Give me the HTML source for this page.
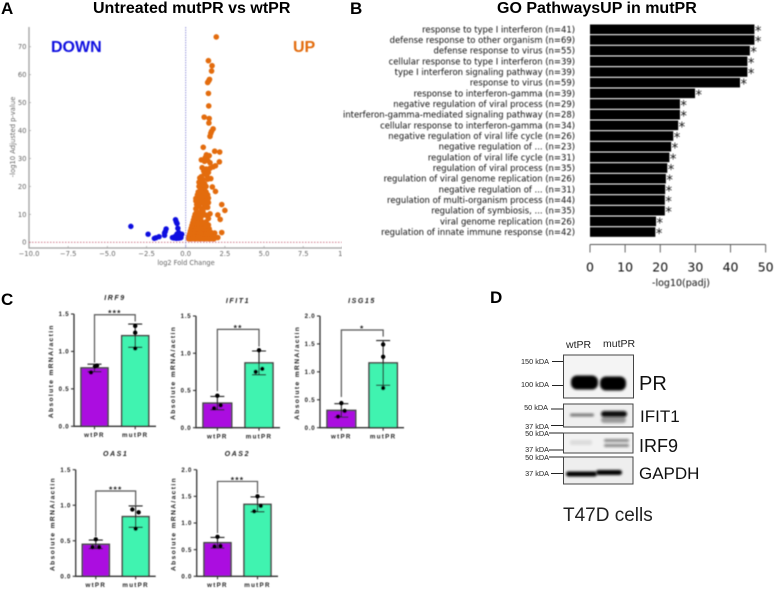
<!DOCTYPE html>
<html lang="en">
<head>
<meta charset="utf-8">
<title>mutPR versus wtPR figure</title>
<style>
html,body{margin:0;padding:0;background:#fff;}
body{width:774px;height:589px;overflow:hidden;}
svg{display:block;}
text{font-family:"Liberation Sans",sans-serif;}
.dj{font-family:"DejaVu Sans","Liberation Sans",sans-serif;}
</style>
</head>
<body>
<svg id="fig" xmlns="http://www.w3.org/2000/svg" width="774" height="589" viewBox="0 0 774 589">
  <defs>
    <filter id="soft" x="-5%" y="-5%" width="110%" height="110%"><feGaussianBlur stdDeviation="0.4"/></filter>
    <filter id="band" x="-30%" y="-60%" width="160%" height="220%"><feGaussianBlur stdDeviation="1.3"/></filter>
    <filter id="wide" x="-30%" y="-60%" width="160%" height="220%"><feGaussianBlur stdDeviation="2.4"/></filter>
    <clipPath id="volcano-clip"><rect x="0" y="0" width="342" height="270"/></clipPath>
  </defs>
  <rect width="774" height="589" fill="#fff"/>

  <g font-weight="700" fill="#000" font-size="16">
    <text x="1" y="14" font-size="17">A</text>
    <text x="93" y="13">Untreated mutPR vs wtPR</text>
    <text x="350" y="14" font-size="17">B</text>
    <text x="497" y="13">GO PathwaysUP in mutPR</text>
    <text x="1" y="305" font-size="17">C</text>
    <text x="490" y="303" font-size="17">D</text>
  </g>

  <g id="volcano" filter="url(#soft)" clip-path="url(#volcano-clip)"></g>
  <g id="pathways" filter="url(#soft)"></g>
  <g id="expression" filter="url(#soft)"></g>

  <g id="western">
    <text x="566" y="348" font-size="10.5" fill="#222">wtPR</text>
    <text x="603" y="347" font-size="10.5" fill="#222">mutPR</text>

    <g>
      <rect x="563.5" y="355" width="70" height="43" fill="#f4f4f4" stroke="#444" stroke-width="1"/>
      <rect x="571" y="375.5" width="27" height="14" rx="6" fill="#000" filter="url(#band)"/>
      <rect x="600" y="376.5" width="26" height="14" rx="6" fill="#000" filter="url(#band)"/>
      <text x="639" y="390" font-size="20" fill="#111">PR</text>
    </g>
    <g>
      <rect x="563.5" y="404" width="69.5" height="23" fill="#efefef" stroke="#444" stroke-width="1"/>
      <rect x="570" y="413.5" width="24" height="3" rx="1.5" fill="#777" filter="url(#band)"/>
      <rect x="601" y="417" width="25" height="6" rx="3" fill="#999" filter="url(#band)"/>
      <rect x="601" y="411" width="26" height="6" rx="3" fill="#111" filter="url(#band)"/>
      <text x="640" y="422" font-size="17" fill="#111">IFIT1</text>
    </g>
    <g>
      <rect x="563.5" y="433" width="69.5" height="20" fill="#f2f2f2" stroke="#444" stroke-width="1"/>
      <rect x="570" y="440" width="22" height="5" rx="2" fill="#dcdcdc" filter="url(#band)"/>
      <rect x="604" y="439" width="25" height="3" rx="1.5" fill="#888" filter="url(#band)"/>
      <rect x="604" y="444" width="25" height="3" rx="1.5" fill="#888" filter="url(#band)"/>
      <text x="639" y="452" font-size="18" fill="#111">IRF9</text>
    </g>
    <g>
      <rect x="563.5" y="457" width="69.5" height="27" fill="#eeeeee" stroke="#444" stroke-width="1"/>
      <rect x="566" y="471.5" width="31" height="5" rx="2.5" fill="#000" filter="url(#band)"/>
      <rect x="596" y="470" width="26" height="5" rx="2.5" fill="#000" filter="url(#band)"/>
      <text x="639" y="479" font-size="17" fill="#111">GAPDH</text>
    </g>

    <g stroke="#222" stroke-width="1">
      <line x1="552" y1="361.5" x2="563" y2="361.5"/>
      <line x1="552" y1="385.5" x2="563" y2="385.5"/>
      <line x1="551" y1="409" x2="563" y2="409"/>
      <line x1="551" y1="425.5" x2="563" y2="425.5"/>
      <line x1="549" y1="433" x2="563" y2="433"/>
      <line x1="549" y1="450" x2="563" y2="450"/>
      <line x1="549" y1="457" x2="563" y2="457"/>
      <line x1="551" y1="473.5" x2="563" y2="473.5"/>
    </g>
    <g font-size="7.3" fill="#222" text-anchor="end">
      <text x="549" y="364">150 kDA</text>
      <text x="549" y="387">100 kDA</text>
      <text x="548" y="410">50 kDA</text>
      <text x="549" y="429">37 kDA</text>
      <text x="549" y="436">50 kDA</text>
      <text x="549" y="452">37 kDA</text>
      <text x="549" y="460">50 kDA</text>
      <text x="549" y="476">37 kDA</text>
    </g>
    <text x="563" y="521" font-size="19" fill="#222">T47D cells</text>
  </g>
</svg>

<script>
// ---------- Panel A data ----------
const volcanoXTicks = [-10, -7.5, -5, -2.5, 0, 2.5, 5, 7.5, 10];
const volcanoXTickLabels = ["\u221210.0", "\u22127.5", "\u22125.0", "\u22122.5", "0.0", "2.5", "5.0", "7.5", "10"];
const volcanoYTicks = [0, 10, 20, 30, 40, 50, 60, 70];
const upX = [1.95,1.45,1.68,1.65,1.52,1.47,1.4,1.45,1.47,1.18,1.5,1.48,1.75,1.65,1.6,1.55,1.12,
  1.85,2.17,1.32,1.5,1.25,1,1.2,1.4,2.15,1.55,1.9,1.75,1.05,1.3,1.55,1.15,1.45,1.2,1.35,1,0.9,1.6,1.1,1.4,
  0.85,1.05,1.2,1,0.85,1.3,1.7,1.1,0.95,1.2,1.9,0.8,1,1.3,0.75,1.15,1.4,0.9,1,0.65,1.3,1.45,0.85,1.1,0.65,1.3,0.95,1.45,
  2.3,0.7,1.2,0.85,1.3,1.4,0.65,1,2.5,0.7,1.1,0.9,1.55,0.6,2.05,1.1,1.3,0.8,0.55,1.45,2.2,0.95,1,1.3,0.5,0.7,0.85,
  0.45,0.6,0.8,1,1.2,0.4,0.55,0.7,0.9,1.1,1.3,1.45,0.35,0.5,0.65,0.8,1,1.15,1.3,1.5,
  0.3,0.45,0.6,0.75,0.9,1.05,1.2,1.35,1.6,1.85,2.3,
  0.25,0.4,0.55,0.7,0.85,1,1.15,1.3,1.45,1.6,1.75,
  0.2,0.35,0.5,0.65,0.8,0.95,1.1,1.25,1.4,1.55,1.7,1.85,2.05,
  0.18,0.3,0.45,0.6,0.75,0.9,1.05,1.2,1.35,1.5,1.65,1.8];
const upY = [73.5,65,63.2,61.3,58.3,57.8,57.2,53.3,48.8,44.8,44.3,42.7,40.6,39.7,39,37.9,34,
  32.6,32.3,31.3,31,30.3,29.5,29,29.3,28.8,28.5,27.4,27,26.7,26.2,26.5,25.5,25,24.5,24,23.5,23,22.8,22.5,22.6,
  21.5,21.5,21,20.3,20,20,19.8,19.5,19,18.7,18.2,18,18,18,17,17,17,16.5,16,15.7,16,15.8,15.2,15,14.8,14.8,14.2,14.2,
  13.5,13.5,13.3,13,12.5,12.5,12,12,11.4,11,11,10.5,10.2,10,9.8,9.7,9.7,9.4,9,8.5,8.2,8.7,7.5,7.3,8,8.2,7.8,
  7,7.1,6.9,6.8,6.6,6,6.1,5.9,6,5.9,5.8,6.2,5,5.1,4.9,5,5.1,4.9,5,4.8,
  4,4,4.1,3.9,4,4.1,3.9,4,3.6,3.3,3.5,
  3,3,3.1,2.9,3,3.1,2.9,3,3.1,3,2.9,
  2.1,2,2.1,2,2.1,2,2.1,2,2.1,2,2.1,2,1.7,
  1.3,1.2,1.3,1.2,1.3,1.2,1.3,1.2,1.3,1.2,1.3,1.2];
const downX = [-3.5,-2.4,-2,-1.9,-1.7,-1.35,-1.35,-1.3,-1.25,-0.65,-0.6,-0.55,-0.5,-0.45,-0.4,-0.75,-0.85,-0.7,-0.6,-0.6,-0.5,-0.5,-0.45,-0.4,-0.35,-0.3,-0.3,-0.35,-0.55,-0.25,-0.65];
const downY = [5.7,2.9,1.4,1.6,2,2.5,3.3,3.9,4.8,8.1,7.3,6.7,5,3.5,3,1.5,1.7,2,1.4,2.5,1.5,2.3,1.5,1.5,1.6,1.7,2.3,2.8,3,2.9,1.6];

// ---------- Panel B data ----------
const pathwayLabels = ["response to type I interferon (n=41)","defense response to other organism (n=69)","defense response to virus (n=55)","cellular response to type I interferon (n=39)","type I interferon signaling pathway (n=39)","response to virus (n=59)","response to interferon-gamma (n=39)","negative regulation of viral process (n=29)","interferon-gamma-mediated signaling pathway (n=28)","cellular response to interferon-gamma (n=34)","negative regulation of viral life cycle (n=26)","negative regulation of ... (n=23)","regulation of viral life cycle (n=31)","regulation of viral process (n=35)","regulation of viral genome replication (n=26)","negative regulation of ... (n=31)","regulation of multi-organism process (n=44)","regulation of symbiosis, ... (n=35)","viral genome replication (n=26)","regulation of innate immune response (n=42)"];
const pathwayValues = [46.8,46.8,45.5,44.8,44.8,42.7,29.9,25.6,25.6,25.1,23.7,23.1,22.6,22,21.6,21.4,21.3,21.3,18.8,18.6];
const pathwayTicks = [0,10,20,30,40,50];

// ---------- Panel C data ----------
const geneNames = ["IRF9","IFIT1","ISG15","OAS1","OAS2"];
const groupNames = ["wtPR","mutPR"];
const wtMeans = [0.78,0.33,0.31,0.45,0.63];
const mutMeans = [1.21,0.87,1.16,0.84,1.35];
const wtErrors = [0.05,0.09,0.12,0.06,0.10];
const mutErrors = [0.155,0.16,0.40,0.15,0.14];
const wtPoints = [[0.72,0.81,0.80],[0.26,0.30,0.43],[0.20,0.30,0.44],[0.41,0.41,0.52],[0.56,0.57,0.74]];
const mutPoints = [[1.04,1.25,1.34],[0.75,0.79,1.04],[0.71,1.27,1.49],[0.67,0.90,0.94],[1.22,1.32,1.50]];
const yAxisMax = [1.5,1.5,2,1.5,2];
const yTickLabels = [["0.0","0.5","1.0","1.5"],["0.0","0.5","1.0","1.5"],["0.0","0.5","1.0","1.5","2.0"],["0.0","0.5","1.0","1.5"],["0.0","0.5","1.0","1.5","2.0"]];
const significance = ["***","**","*","***","***"];
const bracketTop = [1.49,1.32,1.75,1.2,1.78];
const bracketWtEnd = [0.85,0.49,0.55,0.56,0.81];
const bracketMutEnd = [1.4,1.09,1.63,1.0,1.56];

// ---------- helpers ----------
const NS = "http://www.w3.org/2000/svg";
function mk(parent, tag, attrs, txt) {
  const el = document.createElementNS(NS, tag);
  for (const k in attrs) el.setAttribute(k, attrs[k]);
  if (txt !== undefined) el.textContent = txt;
  parent.appendChild(el);
  return el;
}

// ---------- Panel A ----------
(function () {
  const g = document.getElementById("volcano");
  const sx = v => 185.7 + v * 15.67;
  const sy = v => 242.3 - v * 2.794;
  const axisColor = "#a0a0a0", textColor = "#666";

  const spines = mk(g, "path", {d: "M29 27V248H342", fill: "none", stroke: axisColor, "stroke-width": 1.3});
  
  

  volcanoXTicks.forEach((t, i) => {
    mk(g, "line", {x1: sx(t), x2: sx(t), y1: 246, y2: 248, stroke: axisColor, "stroke-width": 0.7});
    const lab = mk(g, "text", {x: sx(t), y: 256, "text-anchor": "middle", "font-size": 6.8, fill: textColor, class: "dj"}, volcanoXTickLabels[i]);
    
    
  });
  volcanoYTicks.forEach(t => {
    mk(g, "line", {x1: 29, x2: 31, y1: sy(t), y2: sy(t), stroke: axisColor, "stroke-width": 0.7});
    const lab = mk(g, "text", {x: 26.5, y: sy(t) + 2.4, "text-anchor": "end", "font-size": 6.8, fill: textColor, class: "dj"}, t);
    
    
  });

  const xt = mk(g, "text", {x: 186, y: 265, "text-anchor": "middle", "font-size": 6.6, fill: textColor, class: "dj"}, "log2 Fold Change");
  
  
  const yt = mk(g, "text", {transform: "translate(15 137) rotate(-90)", "text-anchor": "middle", "font-size": 6.8, fill: textColor, class: "dj"}, "-log10 Adjusted p-value");
  
  

  upX.forEach((x, i) => {
    const c = mk(g, "circle", {cx: sx(x), cy: sy(upY[i]), r: 2.8, fill: "#e36c0a"});
    
    
  });
  downX.forEach((x, i) => {
    const c = mk(g, "circle", {cx: sx(x), cy: sy(downY[i]), r: 2.7, fill: "#0b0be0"});
    
    
  });

  const h = mk(g, "line", {x1: 29, x2: 342, y1: sy(0), y2: sy(0), stroke: "#c8667a", "stroke-width": 0.8, "stroke-dasharray": "1.5 1.5"});
  
  
  const v = mk(g, "line", {x1: sx(0), x2: sx(0), y1: 27, y2: 248, stroke: "#7f7fd0", "stroke-width": 0.8, "stroke-dasharray": "1.5 1"});
  
  

  const down = mk(g, "text", {x: 51, y: 52, "font-size": 16, "font-weight": 700, fill: "#0b0be0"}, "DOWN");
  
  
  const up = mk(g, "text", {x: 293, y: 52, "font-size": 16, "font-weight": 700, fill: "#e36c0a"}, "UP");
  
  
})();

// ---------- Panel B ----------
(function () {
  const g = document.getElementById("pathways");
  const sx = v => 590 + v * 3.513;
  const sy = i => 29.3 + i * 10.67;

  pathwayLabels.forEach((label, i) => {
    const t = mk(g, "text", {x: 575, y: sy(i) + 3, "text-anchor": "end", "font-size": 8.45, fill: "#111", class: "dj"}, label);
    
    
    const b = mk(g, "rect", {x: sx(0), y: sy(i) - 4.8, width: sx(pathwayValues[i]) - sx(0), height: 9.6, fill: "#000"});
    
    
    const s = mk(g, "text", {x: sx(pathwayValues[i]) + 0.5, y: sy(i) + 6, "font-size": 13, fill: "#111", class: "dj"}, "*");
    
    
  });

  const axis = mk(g, "line", {x1: sx(0), x2: sx(50), y1: 244.5, y2: 244.5, stroke: "#555", "stroke-width": 0.9});
  
  
  pathwayTicks.forEach(t => {
    mk(g, "line", {x1: sx(t), x2: sx(t), y1: 244.5, y2: 252.5, stroke: "#555", "stroke-width": 0.9});
    const lab = mk(g, "text", {x: sx(t), y: 271.5, "text-anchor": "middle", "font-size": 12.5, fill: "#111", class: "dj"}, t);
    
    
  });
  const title = mk(g, "text", {x: 681, y: 286, "text-anchor": "middle", "font-size": 9.5, fill: "#111", class: "dj"}, "-log10(padj)");
  
  
})();

// ---------- Panel C ----------
(function () {
  const root = document.getElementById("expression");
  // Panel geometry only: axis origin, plot extent, bar edges, point scatter offsets
  const frames = [
    {ax: 74, y0: 426.3, yTop: 314, b1: [81, 108], b2: [121.7, 148.7], end: 156, titleY: 300, wtJ: [-3.5, 2.5, 0.5], mutJ: [0, 0, 0]},
    {ax: 196, y0: 427.7, yTop: 316, b1: [203, 231.7], b2: [245, 273], end: 280, titleY: 303, wtJ: [-3.3, 3.3, 0], mutJ: [-3.3, 3.3, 0]},
    {ax: 320, y0: 427.7, yTop: 316, b1: [327, 355.7], b2: [369, 397.3], end: 404, titleY: 303, wtJ: [-3.3, 3.3, 0], mutJ: [0, 0, 0]},
    {ax: 75.7, y0: 576.3, yTop: 469.7, b1: [82.3, 109.3], b2: [122.3, 149], end: 155.7, titleY: 456, wtJ: [-3.3, 3.3, 0], mutJ: [0, 3, -3.3]},
    {ax: 196.7, y0: 576.3, yTop: 469.7, b1: [204, 231], b2: [244, 271], end: 278, titleY: 456, wtJ: [-3, 3, 0], mutJ: [-3.3, 3.3, 0]}
  ];

  geneNames.forEach((gene, i) => {
    const f = frames[i];
    const g = mk(root, "g", {});
    
    
    const sy = v => f.y0 - v / yAxisMax[i] * (f.y0 - f.yTop);
    const c1 = (f.b1[0] + f.b1[1]) / 2, c2 = (f.b2[0] + f.b2[1]) / 2;

    const title = mk(g, "text", {x: (f.ax + f.end) / 2, y: f.titleY, "text-anchor": "middle", "font-size": 7, "font-weight": 700, "font-style": "italic", "letter-spacing": 1.6, fill: "#222"}, gene);
    
    

    [[f.b1, wtMeans[i], "#ab0ae0"], [f.b2, mutMeans[i], "#41f3b0"]].forEach(([edges, val, color]) => {
      const b = mk(g, "rect", {x: edges[0], y: sy(val), width: edges[1] - edges[0], height: f.y0 - sy(val), fill: color, stroke: "#444", "stroke-width": 1.5});
      
      
    });

    const axes = mk(g, "path", {d: `M${f.ax} ${f.yTop}V${f.y0}H${f.end}`, fill: "none", stroke: "#333", "stroke-width": 1.3});
    
    

    yTickLabels[i].forEach(lbl => {
      const yy = sy(parseFloat(lbl));
      mk(g, "line", {x1: f.ax - 3, x2: f.ax, y1: yy, y2: yy, stroke: "#333", "stroke-width": 1.1});
      const t = mk(g, "text", {x: f.ax - 4.5, y: yy + 2.2, "text-anchor": "end", "font-size": 6.1, "font-weight": 700, "letter-spacing": 0.8, fill: "#222"}, lbl);
      
      
    });
    [c1, c2].forEach((c, k) => {
      mk(g, "line", {x1: c, x2: c, y1: f.y0, y2: f.y0 + 3, stroke: "#333", "stroke-width": 1.1});
      const t = mk(g, "text", {x: c, y: f.y0 + 10.8, "text-anchor": "middle", "font-size": 6.2, "font-weight": 700, "letter-spacing": 1.3, fill: "#222"}, groupNames[k]);
      
      
    });

    const yl = mk(g, "text", {transform: `translate(${f.ax - 21} ${(f.y0 + f.yTop) / 2 + 1}) rotate(-90)`, "text-anchor": "middle", "font-size": 6.6, "font-weight": 700, "letter-spacing": 1.4, fill: "#222"}, "Absolute mRNA/actin");
    
    

    [[c1, wtMeans[i], wtErrors[i], wtPoints[i], f.wtJ], [c2, mutMeans[i], mutErrors[i], mutPoints[i], f.mutJ]].forEach(([c, m, e, pts, jit]) => {
      const w = mk(g, "path", {d: `M${c} ${sy(m + e)}V${sy(m - e)}M${c - 7} ${sy(m + e)}H${c + 7}M${c - 7} ${sy(m - e)}H${c + 7}`, fill: "none", stroke: "#222", "stroke-width": 1.1});
      
      
      pts.forEach((p, k) => {
        const d = mk(g, "circle", {cx: c + jit[k], cy: sy(p), r: 2.2, fill: "#000"});
        
        
      });
    });

    const bk = mk(g, "path", {d: `M${c1} ${sy(bracketWtEnd[i])}V${sy(bracketTop[i])}H${c2}V${sy(bracketMutEnd[i])}`, fill: "none", stroke: "#555", "stroke-width": 1.2});
    
    
    const st = mk(g, "text", {x: (c1 + c2) / 2, y: sy(bracketTop[i]) + 1.5, "text-anchor": "middle", "font-size": 8.5, "font-weight": 700, "letter-spacing": 1.2, fill: "#222"}, significance[i]);
    
    
  });
})();
</script>
</body>
</html>
